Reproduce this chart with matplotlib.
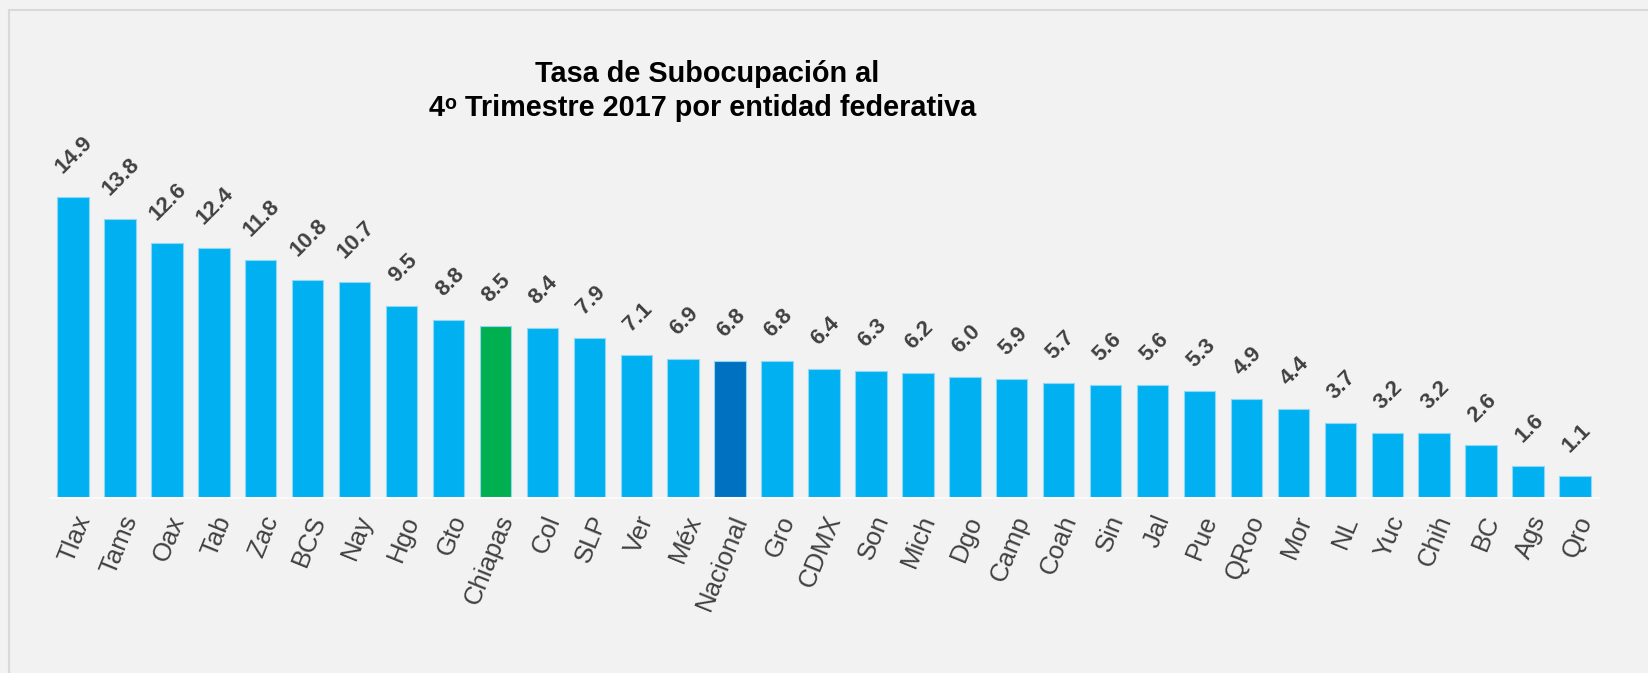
import matplotlib
matplotlib.use("Agg")
import matplotlib.pyplot as plt
from matplotlib.patches import Rectangle

categories = ["Tlax", "Tams", "Oax", "Tab", "Zac", "BCS", "Nay", "Hgo", "Gto", "Chiapas",
              "Col", "SLP", "Ver", "Méx", "Nacional", "Gro", "CDMX", "Son", "Mich", "Dgo",
              "Camp", "Coah", "Sin", "Jal", "Pue", "QRoo", "Mor", "NL", "Yuc", "Chih",
              "BC", "Ags", "Qro"]
values = [14.9, 13.8, 12.6, 12.4, 11.8, 10.8, 10.7, 9.5, 8.8, 8.5,
          8.4, 7.9, 7.1, 6.9, 6.8, 6.8, 6.4, 6.3, 6.2, 6.0,
          5.9, 5.7, 5.6, 5.6, 5.3, 4.9, 4.4, 3.7, 3.2, 3.2,
          2.6, 1.6, 1.1]
title_lines = ["Tasa de Subocupación al", "4ᵒ Trimestre 2017 por entidad federativa"]

plt.rcParams['font.family'] = ['Liberation Sans', 'DejaVu Sans']

BG = "#f2f2f2"
colors = []
for c in categories:
    if c == "Chiapas":
        colors.append("#00b050")
    elif c == "Nacional":
        colors.append("#0070c0")
    else:
        colors.append("#00b0f0")

W, H = 1648, 673
fig = plt.figure(figsize=(W / 100, H / 100), dpi=100, facecolor=BG)
base_px = 498
top_px = base_px - 16 * 20.2
ax = fig.add_axes([49.5 / W, 1 - base_px / H, (1598.5 - 49.5) / W, (base_px - top_px) / H])
ax.set_facecolor(BG)

x = list(range(len(categories)))
ax.bar(x, values, width=0.67, color=colors, edgecolor="#8fd8f5", linewidth=0.8)
ax.set_xlim(-0.5, len(categories) - 0.5)
ax.set_ylim(0, 16)

for xi, v in zip(x, values):
    ax.annotate(f"{v:.1f}", xy=(xi, v), xytext=(1, 14), textcoords="offset points",
                rotation=45, ha="center", va="bottom",
                fontsize=16, fontweight="bold", color="#404040")

ax.set_xticks(x)
ax.set_xticklabels(categories, rotation=68, rotation_mode="anchor", ha="right", va="top",
                   fontsize=18.5, color="#404040")
ax.tick_params(axis="x", length=0, pad=10)
ax.set_yticks([])
for s in ["top", "right", "left"]:
    ax.spines[s].set_visible(False)
ax.spines["bottom"].set_color("#fafafa")
ax.spines["bottom"].set_linewidth(1.5)

fig.text(707 / W, 1 - 73.5 / H, title_lines[0], ha="center", va="center",
         fontsize=20.8, fontweight="bold", color="black")
fig.text(703 / W, 1 - 108 / H, title_lines[1], ha="center", va="center",
         fontsize=20.8, fontweight="bold", color="black")

fig.patches.append(Rectangle((8.5 / W, 1 - 700 / H), (1700 - 8.5) / W, (700 - 10) / H,
                             transform=fig.transFigure, fill=False,
                             edgecolor="#d9d9d9", linewidth=1.5))

fig.savefig("out.png", dpi=100, facecolor=BG)
